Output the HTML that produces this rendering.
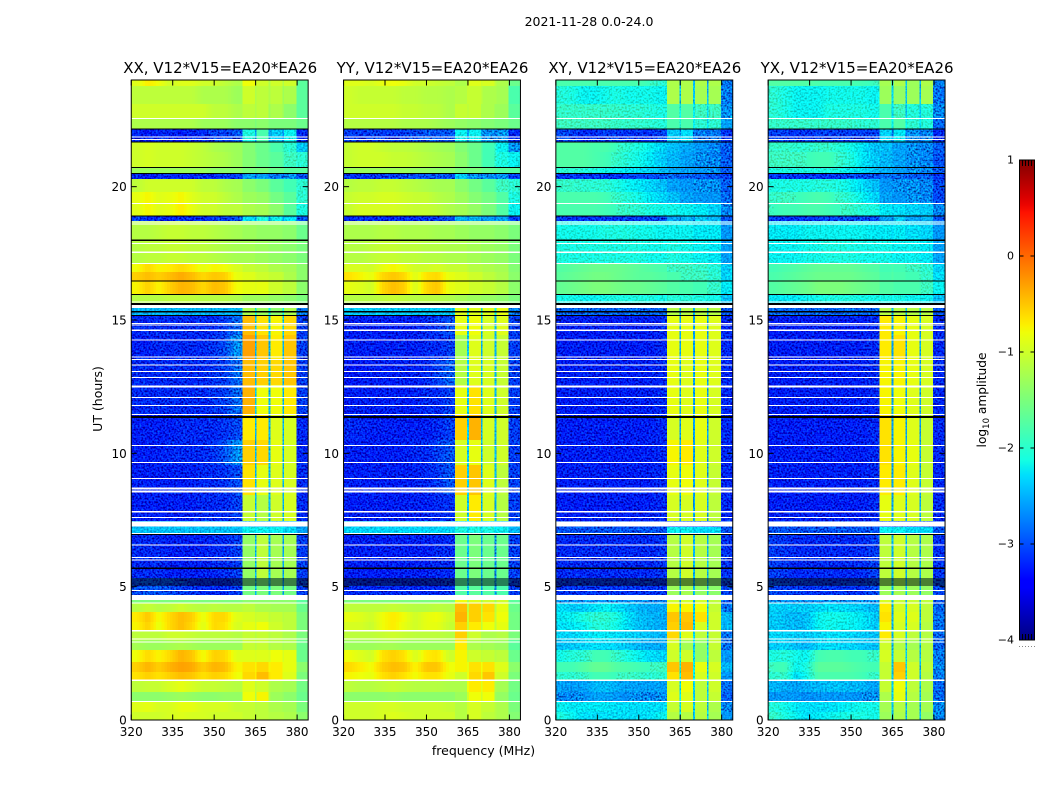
<!DOCTYPE html>
<html>
<head>
<meta charset="utf-8">
<title>2021-11-28 amplitude spectrogram</title>
<style>
html,body{margin:0;padding:0;background:#fff;}
svg{display:block;font-family:"DejaVu Sans","Liberation Sans",sans-serif;fill:#000;}
</style>
</head>
<body>
<svg id="figure" xmlns="http://www.w3.org/2000/svg" width="1050" height="800" viewBox="0 0 1050 800">
<defs>
<filter id="grainStrong" x="0" y="0" width="100%" height="100%" color-interpolation-filters="sRGB">
<feTurbulence type="fractalNoise" baseFrequency="0.55" numOctaves="1" seed="7" result="raw"/>
<feColorMatrix in="raw" type="matrix" values="0 0 0 0 0.5  1.8 0 0 0 -0.4  1.8 0 0 0 -0.4  0 0 0 0 1" result="noise"/>
<feComposite in="SourceGraphic" in2="noise" operator="arithmetic" k1="0.5" k2="0.75" k3="0.5" k4="-0.25" result="mixed"/>
<feComposite in="mixed" in2="SourceAlpha" operator="in"/>
</filter>
<filter id="grainSoft" x="0" y="0" width="100%" height="100%" color-interpolation-filters="sRGB">
<feTurbulence type="fractalNoise" baseFrequency="0.55" numOctaves="1" seed="11" result="raw"/>
<feColorMatrix in="raw" type="matrix" values="0 0 0 0 0.5  1.8 0 0 0 -0.4  1.8 0 0 0 -0.4  0 0 0 0 1" result="noise"/>
<feComposite in="SourceGraphic" in2="noise" operator="arithmetic" k1="0.3" k2="0.85" k3="0.2" k4="-0.1" result="mixed"/>
<feComposite in="mixed" in2="SourceAlpha" operator="in"/>
</filter>
</defs>
<rect x="0" y="0" width="1050" height="800" fill="#fff"/>
<text x="589" y="26" font-size="12.5" text-anchor="middle">2021-11-28 0.0-24.0</text>
<text x="0" y="0" font-size="12.5" text-anchor="middle" transform="translate(102,399) rotate(-90)">UT (hours)</text>
<text x="483.500" y="755" font-size="12.5" text-anchor="middle">frequency (MHz)</text>
<text x="0" y="0" font-size="12.2" text-anchor="middle" transform="translate(986,400) rotate(-90)">log<tspan font-size="8.5" dy="3">10</tspan><tspan dy="-3"> amplitude</tspan></text>
<g id="panels"></g>
<g id="colorbar"></g>
</svg>
<script>
// Axis data
const freqEdges = [320,324,328,332,336,340,344,348,352,356,360.3,364.7,365.3,369.7,370.3,374.7,375.3,379.7,384];
const timeEdges = [24,23.77,23.10,22.57,22.16,21.67,21.30,20.73,20.51,20.28,19.80,19.35,18.90,18.71,18.00,17.14,16.80,16.46,15.97,15.64,15.45,15.19,14.44,13.50,12.56,11.44,10.50,9.56,8.44,7.46,7.24,6.97,5.32,4.69,4.39,4.05,3.67,3.37,3.00,2.62,2.17,1.80,1.50,1.05,0.71,0.30,0];
const xTicks = [320,335,350,365,380];
const yTicks = [0,5,10,15,20];
const colorTicks = [1,0,-1,-2,-3,-4];
const panelTitles = ["XX, V12*V15=EA20*EA26","YY, V12*V15=EA20*EA26","XY, V12*V15=EA20*EA26","YX, V12*V15=EA20*EA26"];
// Flagged integrations shared by all panels: [hour, width in hours]
const whiteFlags = [[22.56,.04],[21.87,.04],[21.77,.04],[19.37,.04],[18.68,.04],[18.60,.04],[17.87,.04],[17.54,.04],[17.12,.04],[15.68,.04],[15.52,.15],[14.87,.04],[14.81,.04],[14.62,.06],[14.25,.04],[13.62,.04],[13.52,.04],[13.31,.04],[13.07,.04],[12.85,.04],[12.50,.075],[12.10,.04],[11.80,.04],[11.46,.04],[10.30,.04],[9.66,.04],[9.05,.04],[8.69,.04],[8.62,.04],[8.56,.04],[7.81,.04],[7.60,.04],[7.35,.19],[7.00,.04],[6.56,.04],[6.10,.04],[6.00,.04],[4.85,.04],[4.59,.19],[4.38,.04],[3.35,.06],[3.03,.04],[2.92,.04],[1.49,.06],[0.70,.04]];
const blackFlags = [[22.17,.04],[21.67,.04],[20.72,.04],[20.50,.04],[18.90,.04],[17.99,.04],[16.46,.04],[15.96,.04],[15.60,.06],[15.31,.04],[15.17,.04],[11.37,.075],[6.96,.04],[5.69,.04],[5.29,.04],[5.21,.04],[5.14,.04],[5.06,.04]];
// log10 amplitude, rows top to bottom (timeEdges), columns left to right (freqEdges)
const xxValues = [
[-.9,-.7,-.8,-1,-.9,-.9,-1,-1,-1.1,-1.2,-.8,-1,-1,-1.2,-1,-1.2,-1,-1.7],
[-1.1,-1.1,-1.1,-1.1,-1.1,-1.1,-1.2,-1.2,-1.2,-1.3,-1,-1.2,-1.1,-1.2,-1.1,-1.3,-1.2,-1.7],
[-1,-1,-1,-1,-1,-1,-1,-1.1,-1.1,-1.2,-1.1,-1.2,-1.1,-1.3,-1.2,-1.3,-1.4,-1.7],
[-1.2,-1.2,-1.2,-1.2,-1.2,-1.2,-1.3,-1.3,-1.3,-1.4,-1.4,-1.5,-1.4,-1.5,-1.5,-1.5,-1.5,-1.6],
[-3.2,-3.3,-3.2,-3.2,-3.3,-3.2,-3.2,-3.1,-3.1,-3,-2.1,-2.6,-1.8,-2.6,-2.4,-2.7,-2.2,-3.2],
[-1,-.95,-1,-1,-1,-1.05,-1.1,-1.2,-1.25,-1.3,-1.45,-1.55,-1.6,-1.7,-1.8,-1.9,-2,-2.4],
[-1,-.95,-1,-1,-1,-1.05,-1.1,-1.15,-1.2,-1.3,-1.45,-1.5,-1.6,-1.65,-1.7,-1.8,-1.9,-2],
[-1.3,-1.3,-1.3,-1.3,-1.3,-1.3,-1.3,-1.4,-1.4,-1.4,-1.5,-1.6,-1.5,-1.6,-1.6,-1.6,-1.7,-1.7],
[-3.2,-3.3,-3.2,-3.2,-3.2,-3.2,-3.2,-3.2,-3.1,-3.1,-2.6,-2.9,-2.6,-2.9,-2.8,-2.9,-2.7,-3],
[-1.1,-1,-1,-1,-1,-1,-1.1,-1.1,-1.2,-1.25,-1.4,-1.45,-1.5,-1.6,-1.7,-1.75,-1.85,-2],
[-.85,-.75,-.9,-.85,-.75,-.9,-1,-1,-1.1,-1.2,-1.3,-1.3,-1.35,-1.45,-1.55,-1.6,-1.7,-2],
[-.9,-.75,-.9,-.85,-.7,-.85,-1,-1,-1.1,-1.1,-1.2,-1.25,-1.25,-1.35,-1.4,-1.5,-1.7,-2.1],
[-3.1,-3.2,-3.2,-3.2,-3.2,-3.2,-3.2,-3.1,-3.1,-3,-2.3,-2.6,-2.1,-2.6,-2.2,-2.6,-2.3,-3],
[-1.15,-1.15,-1.1,-1.05,-1.05,-1.1,-1.1,-1.15,-1.2,-1.25,-1.3,-1.3,-1.35,-1.35,-1.35,-1.4,-1.4,-1.6],
[-1.15,-1.1,-1.1,-1.05,-1.05,-1.1,-1.1,-1.15,-1.2,-1.25,-1.25,-1.3,-1.3,-1.35,-1.35,-1.4,-1.4,-1.5],
[-.8,-.6,-.75,-.7,-.6,-.7,-.85,-.75,-.8,-.95,-1.05,-1.1,-1.1,-1.2,-1.2,-1.25,-1.25,-1.4],
[-.55,-.45,-.55,-.45,-.35,-.45,-.6,-.5,-.55,-.85,-.9,-.95,-1,-1.05,-1.05,-1.1,-1.2,-1.4],
[-.75,-.55,-.75,-.55,-.4,-.45,-.6,-.45,-.5,-.8,-.85,-.9,-.85,-1,-1,-1.1,-1.1,-1.4],
[-1.15,-1.15,-1.15,-1.1,-1.1,-1.1,-1.15,-1.15,-1.15,-1.2,-1.3,-1.3,-1.3,-1.35,-1.35,-1.35,-1.4,-1.5],
[-1.2,-1.2,-1.2,-1.2,-1.2,-1.2,-1.2,-1.2,-1.2,-1.2,-1.3,-1.3,-1.3,-1.3,-1.3,-1.3,-1.4,-1.5],
[-2.5,-2.5,-2.5,-2.5,-2.5,-2.5,-2.5,-2.5,-2.5,-2.5,-1.2,-2.2,-1.3,-2.2,-1.4,-2.2,-1.2,-2.8],
[-3.2,-3.2,-3.2,-3.2,-3.2,-3.2,-3.2,-3.2,-3.1,-2.9,-.45,-2.4,-.65,-2.4,-.75,-2.4,-.6,-3.1],
[-3.25,-3.25,-3.2,-3.2,-3.2,-3.2,-3.2,-3.15,-3.05,-2.7,-.3,-2.5,-.5,-2.5,-.7,-2.5,-.5,-3.1],
[-3.2,-3.2,-3.2,-3.2,-3.2,-3.2,-3.2,-3.15,-3.1,-2.9,-.45,-2.5,-.55,-2.5,-.6,-2.5,-.5,-3.1],
[-3.2,-3.2,-3.2,-3.2,-3.2,-3.2,-3.2,-3.15,-3.1,-2.9,-.4,-2.4,-.8,-2.5,-.8,-2.5,-.7,-3.1],
[-3.25,-3.25,-3.25,-3.25,-3.2,-3.2,-3.2,-3.2,-3.15,-3.05,-.7,-2.5,-.7,-2.5,-.9,-2.5,-.95,-3.2],
[-3.25,-3.25,-3.25,-3.2,-3.2,-3.2,-3.2,-3.15,-3,-2.7,-.55,-2.5,-.6,-2.5,-.85,-2.5,-.95,-3.2],
[-3.25,-3.25,-3.25,-3.25,-3.25,-3.25,-3.2,-3.2,-3.15,-3.05,-.65,-2.5,-.85,-2.5,-.9,-2.5,-.95,-3.2],
[-3.25,-3.25,-3.25,-3.25,-3.25,-3.25,-3.2,-3.2,-3.2,-3.1,-1.05,-2.5,-1.15,-2.5,-1,-2.5,-.95,-3.2],
[-2.5,-2.5,-2.5,-2.5,-2.5,-2.5,-2.5,-2.5,-2.5,-2.5,-2.5,-2.5,-2.5,-2.5,-2.5,-2.5,-2.5,-2.6],
[-2.45,-2.45,-2.45,-2.45,-2.45,-2.45,-2.45,-2.45,-2.45,-2.45,-2.2,-2.3,-2.2,-2.3,-2.2,-2.3,-2.3,-2.6],
[-3.2,-3.2,-3.2,-3.25,-3.25,-3.25,-3.25,-3.2,-3.2,-3.1,-1.35,-2.5,-1.1,-2.5,-1.25,-2.6,-1.25,-3.1],
[-3.05,-3,-3,-3.05,-3.1,-3.15,-3.2,-3.2,-3.2,-3.1,-1.55,-2.5,-1.5,-2.5,-1.5,-2.6,-1.55,-3.1],
[-1.5,-1.5,-1.5,-1.5,-1.5,-1.5,-1.5,-1.5,-1.5,-1.5,-1.4,-1.4,-1.4,-1.4,-1.4,-1.4,-1.4,-1.7],
[-1.15,-1.05,-1.15,-1.1,-1,-1.1,-1.15,-1.1,-1.15,-1.15,-1.1,-1.2,-1.2,-1.2,-1.25,-1.25,-1.25,-1.6],
[-.7,-.5,-.8,-.6,-.45,-.55,-.85,-.6,-.6,-.9,-.95,-1.05,-1,-1.1,-1.05,-1.15,-1.1,-1.5],
[-.75,-.55,-.85,-.6,-.45,-.6,-.9,-.6,-.65,-.95,-.85,-1,-.8,-1,-1,-1.1,-1.1,-1.5],
[-1.1,-1.1,-1.1,-1,-1,-1.05,-1.1,-1.1,-1.1,-1.15,-1.05,-1.15,-1.05,-1.15,-1.1,-1.2,-1.2,-1.5],
[-1.25,-1.3,-1.3,-1.25,-1.2,-1.25,-1.3,-1.3,-1.3,-1.3,-1.05,-1.15,-1.05,-1.2,-1.15,-1.25,-1.2,-1.6],
[-.8,-.6,-.75,-.6,-.4,-.5,-.8,-.55,-.6,-.9,-.9,-.95,-.9,-.95,-.8,-.95,-.85,-1.6],
[-.55,-.4,-.55,-.4,-.3,-.35,-.55,-.4,-.45,-.75,-.65,-.75,-.6,-.75,-.7,-.85,-.85,-1.4],
[-.65,-.55,-.65,-.55,-.45,-.5,-.65,-.55,-.6,-.8,-.6,-.7,-.45,-.65,-.7,-.9,-.9,-1.5],
[-1.1,-1.05,-1.05,-.95,-.85,-.95,-1.05,-1.05,-1.1,-1.15,-.9,-1.1,-1,-1.15,-1.2,-1.25,-1.25,-1.55],
[-1.4,-1.4,-1.4,-1.35,-1.3,-1.35,-1.4,-1.4,-1.35,-1.35,-.8,-1.2,-.75,-1.2,-1.3,-1.35,-1.4,-1.6],
[-.9,-.85,-.95,-.95,-.85,-.85,-.95,-.95,-.95,-1.05,-1.05,-1.15,-1.1,-1.2,-1.2,-1.25,-1.25,-1.5],
[-1,-1,-1,-.95,-.9,-.95,-.95,-1,-1,-1,-1.05,-1.1,-1.1,-1.15,-1.15,-1.15,-1.2,-1.4]
];
const yyValues = [
[-.9,-.9,-.95,-.85,-.8,-.85,-1,-1,-1.05,-1.1,-1.2,-1,-.9,-1,-.95,-1.1,-1.2,-1.6],
[-1,-1.05,-1.05,-1.05,-1.05,-1.1,-1.1,-1.15,-1.15,-1.2,-1.15,-1.05,-1.05,-1.1,-1.2,-1.2,-1.25,-1.8],
[-1,-1,-1,-1,-1,-1.05,-1.05,-1.1,-1.1,-1.2,-1.05,-1.1,-1.05,-1.2,-1.2,-1.3,-1.3,-1.7],
[-1.15,-1.15,-1.15,-1.15,-1.15,-1.2,-1.2,-1.2,-1.25,-1.3,-1.35,-1.4,-1.4,-1.45,-1.45,-1.5,-1.5,-1.6],
[-3.1,-3.15,-3.1,-3.1,-3.15,-3.1,-3.05,-3,-3,-3,-2.2,-2.6,-2.2,-2.6,-2.7,-2.8,-2.7,-3.2],
[-1.05,-1,-1,-1.05,-1.1,-1.1,-1.15,-1.2,-1.25,-1.3,-1.45,-1.55,-1.6,-1.7,-1.85,-2,-2.2,-2.7],
[-1.05,-1,-1,-1,-1.05,-1.05,-1.1,-1.15,-1.2,-1.25,-1.4,-1.5,-1.6,-1.7,-1.85,-2,-2.1,-2.2],
[-1.3,-1.3,-1.3,-1.3,-1.3,-1.3,-1.35,-1.35,-1.4,-1.4,-1.5,-1.55,-1.5,-1.55,-1.6,-1.65,-1.7,-1.7],
[-3.15,-3.15,-3.15,-3.1,-3.1,-3.05,-3,-3,-3,-3,-2.4,-2.7,-2.7,-2.9,-2.7,-2.9,-2.7,-3.1],
[-1.15,-1.1,-1.1,-1.05,-1.05,-1.1,-1.15,-1.2,-1.25,-1.25,-1.4,-1.45,-1.55,-1.6,-1.7,-1.8,-1.9,-2],
[-1.05,-1,-1,-.95,-.95,-1,-1.05,-1.05,-1.15,-1.2,-1.3,-1.35,-1.45,-1.5,-1.55,-1.6,-1.75,-2.1],
[-1.05,-.95,-.95,-.95,-.95,-1,-1.05,-1.05,-1.1,-1.2,-1.25,-1.3,-1.35,-1.45,-1.5,-1.55,-1.75,-2.2],
[-3.2,-3.2,-3.2,-3.2,-3.2,-3.2,-3.2,-3.15,-3.1,-3,-2.5,-2.8,-2.5,-2.8,-2.6,-2.8,-2.6,-3.1],
[-1.2,-1.2,-1.2,-1.15,-1.15,-1.2,-1.2,-1.2,-1.25,-1.25,-1.3,-1.3,-1.35,-1.35,-1.35,-1.4,-1.4,-1.5],
[-1.15,-1.15,-1.1,-1.05,-1.05,-1.1,-1.1,-1.15,-1.15,-1.2,-1.2,-1.25,-1.25,-1.3,-1.3,-1.35,-1.35,-1.5],
[-.95,-.95,-1,-.85,-.75,-.85,-1,-1,-.95,-1.05,-1.05,-1.1,-1.15,-1.15,-1.2,-1.25,-1.25,-1.45],
[-.65,-.75,-.85,-.6,-.5,-.6,-.9,-.65,-.6,-.85,-.9,-.95,-1,-1,-1.1,-1.15,-1.2,-1.4],
[-.85,-.9,-1,-.6,-.45,-.55,-.95,-.6,-.5,-.85,-.9,-.9,-1,-1,-1.05,-1.1,-1.15,-1.4],
[-1.15,-1.15,-1.15,-1.1,-1.05,-1.1,-1.15,-1.15,-1.15,-1.2,-1.25,-1.3,-1.3,-1.35,-1.35,-1.35,-1.4,-1.5],
[-1.2,-1.2,-1.2,-1.2,-1.2,-1.2,-1.2,-1.2,-1.2,-1.2,-1.3,-1.3,-1.3,-1.3,-1.3,-1.3,-1.4,-1.5],
[-2.4,-2.4,-2.4,-2.4,-2.4,-2.4,-2.4,-2.4,-2.4,-2.4,-.9,-2.1,-.9,-2.2,-.9,-2.2,-.85,-2.8],
[-3.25,-3.25,-3.25,-3.25,-3.25,-3.25,-3.25,-3.2,-3.15,-3,-.85,-2.4,-.8,-2.5,-.95,-2.5,-.9,-3.1],
[-3.25,-3.25,-3.25,-3.25,-3.25,-3.25,-3.25,-3.2,-3.2,-3.1,-1.25,-2.4,-.9,-2.5,-1,-2.5,-1.05,-3.1],
[-3.3,-3.3,-3.25,-3.25,-3.25,-3.25,-3.25,-3.2,-3.1,-2.95,-1.15,-2.4,-.9,-2.5,-.95,-2.5,-1.05,-3.1],
[-3.25,-3.25,-3.25,-3.25,-3.25,-3.25,-3.25,-3.2,-3.2,-3.1,-.85,-2.4,-.65,-2.5,-.9,-2.5,-1,-3.1],
[-3.2,-3.2,-3.25,-3.25,-3.25,-3.25,-3.25,-3.25,-3.2,-3.1,-.55,-2.4,-.4,-2.5,-.95,-2.5,-1,-3.1],
[-3.25,-3.25,-3.25,-3.25,-3.25,-3.25,-3.2,-3.2,-3.1,-3,-.95,-2.4,-.85,-2.5,-1,-2.5,-1,-3.1],
[-3.25,-3.25,-3.25,-3.25,-3.25,-3.25,-3.25,-3.2,-3.15,-3,-.55,-2.4,-.5,-2.5,-.9,-2.5,-1.1,-3.1],
[-3.25,-3.25,-3.25,-3.25,-3.25,-3.25,-3.25,-3.25,-3.2,-3.15,-1,-2.4,-.7,-2.5,-.95,-2.5,-1.15,-3.1],
[-2.4,-2.4,-2.4,-2.4,-2.4,-2.4,-2.4,-2.4,-2.4,-2.4,-2.3,-2.4,-2.3,-2.4,-2.3,-2.4,-2.4,-2.5],
[-2.35,-2.35,-2.35,-2.35,-2.35,-2.35,-2.35,-2.35,-2.35,-2.35,-2.1,-2.3,-2.1,-2.3,-2.1,-2.3,-2.2,-2.5],
[-3.25,-3.25,-3.25,-3.25,-3.25,-3.25,-3.25,-3.25,-3.2,-3.2,-1.6,-2.5,-1.5,-2.6,-1.6,-2.7,-1.6,-3.1],
[-3.2,-3.2,-3.2,-3.2,-3.2,-3.2,-3.2,-3.2,-3.2,-3.15,-1.75,-2.5,-1.7,-2.6,-1.75,-2.7,-1.8,-3.1],
[-1.5,-1.5,-1.5,-1.5,-1.5,-1.5,-1.5,-1.5,-1.5,-1.5,-.8,-1.2,-.9,-1.3,-1,-1.3,-1,-1.7],
[-1.1,-1.1,-1.1,-1.1,-1.05,-1.1,-1.15,-1.15,-1.1,-1.15,-.45,-1.1,-.55,-1.15,-.6,-1.15,-.85,-1.6],
[-.85,-.9,-1,-.8,-.7,-.8,-1,-.85,-.8,-1,-.4,-1,-.55,-1.05,-.65,-1.1,-.8,-1.55],
[-.95,-.95,-1.05,-.8,-.7,-.85,-1,-.85,-.85,-1.05,-.55,-1.05,-.7,-1.1,-.8,-1.1,-.85,-1.55],
[-1.1,-1.1,-1.1,-1.05,-1,-1.05,-1.1,-1.1,-1.1,-1.15,-.55,-1.1,-1,-1.2,-1.2,-1.2,-1.15,-1.5],
[-1.3,-1.3,-1.3,-1.25,-1.25,-1.3,-1.3,-1.3,-1.3,-1.3,-.7,-1.2,-1.2,-1.3,-1.25,-1.3,-1.3,-1.7],
[-.8,-.9,-1,-.65,-.55,-.65,-.95,-.7,-.65,-1,-.75,-1.05,-1,-1.1,-1.05,-1.15,-1.1,-1.6],
[-.6,-.7,-.8,-.55,-.45,-.5,-.75,-.5,-.5,-.8,-.75,-.85,-.65,-.8,-.65,-.9,-.9,-1.4],
[-.75,-.8,-.85,-.65,-.55,-.65,-.8,-.65,-.65,-.85,-1,-.8,-.6,-.85,-.5,-.95,-1,-1.5],
[-1.1,-1.15,-1.15,-1.1,-1.05,-1.1,-1.15,-1.15,-1.15,-1.2,-1.2,-.8,-.7,-.9,-.7,-1.2,-1.25,-1.55],
[-1.4,-1.4,-1.4,-1.4,-1.35,-1.4,-1.4,-1.4,-1.4,-1.4,-1.3,-1,-.8,-1,-.8,-1.3,-1.35,-1.6],
[-1,-1,-1,-.95,-.95,-1,-1,-1,-1,-1.05,-1.15,-1,-.95,-1.05,-1.05,-1.15,-1.2,-1.5],
[-1,-1,-1,-.95,-.9,-.95,-1,-1,-1,-1,-1.15,-1,-.95,-1.05,-1.1,-1.15,-1.2,-1.45]
];
const xyValues = [
[-1.8,-1.8,-1.8,-1.8,-1.8,-1.8,-1.8,-1.8,-1.9,-2,-1.2,-2.4,-1.2,-2.5,-1.2,-2.6,-1.2,-2.8],
[-2.05,-2.1,-2.2,-2.2,-2.15,-2.1,-2.15,-2.15,-2.15,-2.2,-1.2,-2.4,-1.2,-2.4,-1.25,-2.5,-1.25,-2.8],
[-1.95,-1.95,-1.95,-1.95,-1.95,-1.95,-2,-2,-2.05,-2.1,-1.75,-2.2,-1.75,-2.2,-1.9,-2.3,-1.9,-2.7],
[-1.9,-1.9,-1.9,-1.9,-1.9,-1.95,-1.95,-1.95,-2,-2.05,-1.8,-2.1,-1.8,-2.2,-2,-2.3,-2,-2.6],
[-3.05,-3.1,-3.2,-3.2,-3.1,-3.15,-3.15,-3.15,-3.2,-3.05,-2.4,-2.7,-2.3,-2.8,-2.8,-2.9,-2.8,-3.15],
[-1.75,-1.75,-1.75,-1.8,-1.8,-1.9,-2,-2.1,-2.2,-2.35,-2.45,-2.55,-2.55,-2.6,-2.65,-2.7,-2.75,-2.95],
[-1.75,-1.75,-1.75,-1.8,-1.85,-1.95,-2.05,-2.15,-2.25,-2.4,-2.5,-2.55,-2.6,-2.65,-2.7,-2.7,-2.75,-2.95],
[-2,-2,-2.05,-2.1,-2.15,-2.2,-2.25,-2.3,-2.35,-2.45,-2.55,-2.55,-2.6,-2.65,-2.65,-2.7,-2.7,-2.95],
[-3.15,-3.15,-3.15,-3.15,-3.15,-3.15,-3.1,-3.05,-3.05,-3,-2.9,-2.95,-2.95,-2.95,-2.95,-3,-3,-3.1],
[-1.95,-1.95,-2,-2,-2,-2.1,-2.2,-2.25,-2.35,-2.45,-2.6,-2.65,-2.65,-2.7,-2.7,-2.7,-2.7,-2.95],
[-1.8,-1.8,-1.8,-1.8,-1.85,-1.95,-2.05,-2.15,-2.25,-2.35,-2.45,-2.55,-2.6,-2.65,-2.65,-2.65,-2.65,-2.9],
[-1.8,-1.8,-1.8,-1.8,-1.85,-1.9,-1.95,-2,-2.1,-2.15,-2.15,-2.2,-2.2,-2.25,-2.25,-2.3,-2.35,-2.75],
[-3.1,-3.15,-3.15,-3.15,-3.15,-3.15,-3.1,-3.1,-3.1,-3.05,-2.6,-2.7,-2.5,-2.7,-2.4,-2.6,-2.5,-3],
[-2.15,-2.15,-2.15,-2.15,-2.1,-2.1,-2.1,-2.15,-2.15,-2.2,-2.2,-2.2,-2.2,-2.25,-2.25,-2.25,-2.25,-2.65],
[-2.1,-2.1,-2.1,-2.1,-2.1,-2.1,-2.1,-2.1,-2.15,-2.15,-2.1,-2.15,-2.15,-2.2,-2.2,-2.2,-2.25,-2.6],
[-1.75,-1.7,-1.65,-1.6,-1.6,-1.6,-1.65,-1.7,-1.75,-1.8,-1.9,-1.9,-1.9,-1.95,-1.95,-2,-2.05,-2.4],
[-1.7,-1.65,-1.6,-1.55,-1.55,-1.6,-1.65,-1.7,-1.7,-1.75,-1.8,-1.85,-1.9,-1.9,-1.9,-1.95,-2,-2.35],
[-1.65,-1.6,-1.55,-1.5,-1.5,-1.55,-1.6,-1.6,-1.65,-1.7,-1.75,-1.8,-1.8,-1.85,-1.85,-1.9,-1.95,-2.25],
[-2.15,-2.15,-2.2,-2.2,-2.15,-2.1,-2.1,-2.1,-2.1,-2.15,-2.05,-2.1,-2.05,-2.1,-2.1,-2.15,-2.15,-2.45],
[-2.2,-2.2,-2.2,-2.2,-2.2,-2.2,-2.2,-2.2,-2.2,-2.2,-2.1,-2.1,-2.1,-2.1,-2.1,-2.1,-2.2,-2.5],
[-2.9,-2.9,-2.9,-2.9,-2.9,-2.9,-2.9,-2.9,-2.9,-2.9,-1.15,-2.5,-1.15,-2.5,-1.15,-2.5,-1.15,-3],
[-3.25,-3.25,-3.25,-3.25,-3.25,-3.25,-3.25,-3.25,-3.25,-3.2,-.85,-2.6,-.85,-2.6,-.85,-2.6,-.9,-3.2],
[-3.25,-3.25,-3.25,-3.25,-3.25,-3.25,-3.25,-3.25,-3.25,-3.2,-.85,-2.6,-.85,-2.6,-.85,-2.6,-.9,-3.2],
[-3.25,-3.25,-3.25,-3.25,-3.25,-3.25,-3.25,-3.25,-3.25,-3.2,-.85,-2.6,-.9,-2.6,-.85,-2.6,-.9,-3.2],
[-3.25,-3.25,-3.25,-3.25,-3.25,-3.25,-3.25,-3.25,-3.25,-3.2,-.85,-2.6,-.9,-2.6,-.85,-2.6,-.95,-3.2],
[-3.25,-3.25,-3.25,-3.25,-3.25,-3.25,-3.25,-3.25,-3.25,-3.2,-.95,-2.6,-.9,-2.6,-.85,-2.6,-1,-3.2],
[-3.25,-3.25,-3.25,-3.25,-3.25,-3.25,-3.25,-3.25,-3.25,-3.2,-.75,-2.6,-.7,-2.6,-.9,-2.6,-1,-3.2],
[-3.25,-3.25,-3.25,-3.25,-3.25,-3.25,-3.25,-3.25,-3.25,-3.2,-.85,-2.6,-.8,-2.6,-.9,-2.6,-1.05,-3.2],
[-3.25,-3.25,-3.25,-3.25,-3.25,-3.25,-3.25,-3.25,-3.25,-3.2,-.95,-2.6,-.95,-2.6,-.95,-2.6,-1.1,-3.2],
[-3,-3,-3,-3,-3,-3,-3,-3,-3,-3,-3,-3,-3,-3,-3,-3,-3,-3],
[-3,-3,-3,-3,-3,-3,-3,-3,-3,-3,-2.2,-2.4,-2.2,-2.4,-2.3,-2.4,-2.3,-3],
[-3.2,-3.2,-3.2,-3.2,-3.2,-3.2,-3.2,-3.2,-3.2,-3.15,-1.15,-2.5,-1,-2.5,-1.15,-2.5,-1.25,-3.15],
[-3.15,-3.15,-3.15,-3.15,-3.15,-3.15,-3.15,-3.15,-3.15,-3.15,-1.3,-2.5,-1.25,-2.5,-1.35,-2.5,-1.4,-3.05],
[-2.7,-2.7,-2.7,-2.7,-2.7,-2.7,-2.7,-2.7,-2.75,-2.75,-1,-2.6,-1,-2.6,-1,-2.6,-1.1,-3],
[-2.3,-2.4,-2.4,-2.3,-2.2,-2.3,-2.4,-2.5,-2.55,-2.55,-.75,-2.4,-.75,-2.4,-.8,-2.4,-1.05,-2.85],
[-2.25,-2.2,-2.1,-2,-2,-2.1,-2.3,-2.45,-2.5,-2.55,-.5,-2.4,-.5,-2.4,-.65,-2.4,-1,-2.5],
[-2.3,-2.25,-2.2,-2.05,-2.05,-2.15,-2.3,-2.45,-2.5,-2.55,-.55,-2.4,-.45,-2.4,-.95,-2.4,-1,-2.5],
[-2.35,-2.35,-2.3,-2.25,-2.25,-2.3,-2.35,-2.4,-2.45,-2.5,-.6,-2.3,-.9,-2.3,-1.1,-2.4,-1.05,-2.85],
[-2.45,-2.4,-2.35,-2.3,-2.3,-2.35,-2.4,-2.5,-2.55,-2.55,-.95,-2.3,-1.25,-2.4,-1.35,-2.4,-1.05,-2.85],
[-2.15,-2.05,-2,-1.85,-1.85,-1.95,-2.1,-2.2,-2.3,-2.35,-1,-2.2,-1,-2.3,-1.35,-2.4,-1.1,-2.65],
[-1.85,-1.85,-1.75,-1.65,-1.65,-1.75,-1.8,-1.85,-1.9,-1.9,-.5,-2.1,-.4,-2.2,-.85,-2.4,-.95,-2.5],
[-2,-2,-1.95,-1.85,-1.85,-1.9,-1.9,-1.95,-2,-2,-.65,-2.2,-.45,-2.2,-.95,-2.4,-1,-2.65],
[-2.6,-2.65,-2.6,-2.5,-2.45,-2.55,-2.6,-2.6,-2.6,-2.6,-.95,-2.3,-.8,-2.3,-1.1,-2.4,-1,-2.85],
[-2.75,-2.75,-2.7,-2.6,-2.6,-2.65,-2.7,-2.7,-2.75,-2.7,-.9,-2.3,-.9,-2.4,-1.1,-2.4,-1.05,-2.95],
[-2.2,-2.25,-2.25,-2.25,-2.25,-2.3,-2.3,-2.3,-2.3,-2.3,-1.05,-2.3,-.95,-2.4,-1.1,-2.4,-1.2,-2.75],
[-2.1,-2.2,-2.3,-2.3,-2.3,-2.3,-2.3,-2.3,-2.3,-2.2,-1.15,-2.3,-1.15,-2.4,-1.15,-2.4,-1.25,-2.65]
];
const yxValues = [
[-1.75,-1.75,-1.75,-1.75,-1.8,-1.8,-1.8,-1.8,-1.85,-1.9,-1.25,-2.3,-1.2,-2.4,-1.3,-2.5,-1.2,-2.75],
[-2,-2.1,-2.2,-2.2,-2.2,-2.15,-2.15,-2.15,-2.15,-2.2,-1.3,-2.3,-1.35,-2.4,-1.3,-2.5,-1.25,-2.85],
[-2,-2.1,-2.2,-2.2,-2.2,-2.1,-2.1,-2.1,-2.1,-2.15,-1.8,-2.3,-1.9,-2.4,-2.05,-2.4,-2.05,-2.75],
[-1.95,-1.95,-1.95,-1.95,-1.95,-1.95,-1.95,-1.95,-2,-2,-1.8,-2.2,-1.75,-2.2,-2,-2.3,-2.05,-2.9],
[-3.1,-3.1,-3.15,-3.15,-3.1,-3.1,-3.1,-3.1,-3.1,-3.1,-2.35,-2.8,-2.25,-2.8,-2.7,-2.9,-2.75,-3.2],
[-1.95,-1.95,-2,-2,-1.95,-1.95,-2.05,-2.15,-2.25,-2.45,-2.45,-2.55,-2.6,-2.65,-2.7,-2.75,-2.75,-2.95],
[-1.9,-1.9,-1.9,-1.9,-1.85,-1.85,-1.95,-2.1,-2.25,-2.4,-2.5,-2.55,-2.6,-2.65,-2.7,-2.75,-2.75,-3],
[-2.1,-2.1,-2.1,-2.1,-2.1,-2.1,-2.15,-2.25,-2.3,-2.45,-2.55,-2.6,-2.6,-2.65,-2.7,-2.7,-2.75,-2.95],
[-3.15,-3.15,-3.15,-3.15,-3.15,-3.15,-3.1,-3.05,-3.05,-3,-2.85,-2.95,-2.9,-3,-2.95,-3,-2.95,-3.15],
[-2.1,-2.1,-2.1,-2.1,-2.05,-2.05,-2.1,-2.2,-2.3,-2.45,-2.65,-2.7,-2.7,-2.75,-2.7,-2.75,-2.75,-3.05],
[-1.95,-1.9,-1.9,-1.85,-1.8,-1.85,-1.95,-2.05,-2.2,-2.35,-2.6,-2.65,-2.65,-2.7,-2.7,-2.75,-2.75,-3.05],
[-1.9,-1.85,-1.85,-1.8,-1.8,-1.85,-1.9,-1.95,-2.05,-2.1,-2.25,-2.3,-2.3,-2.35,-2.35,-2.4,-2.4,-2.75],
[-3.1,-3.15,-3.15,-3.15,-3.1,-3.1,-3.05,-3.05,-3.05,-3.05,-2.6,-2.7,-2.4,-2.7,-2.6,-2.7,-2.5,-3],
[-2.25,-2.25,-2.25,-2.2,-2.2,-2.2,-2.2,-2.2,-2.2,-2.25,-2.25,-2.3,-2.25,-2.3,-2.3,-2.3,-2.35,-2.65],
[-2.2,-2.2,-2.2,-2.15,-2.15,-2.1,-2.1,-2.1,-2.15,-2.15,-2.15,-2.2,-2.2,-2.2,-2.2,-2.25,-2.25,-2.6],
[-1.85,-1.8,-1.75,-1.7,-1.65,-1.65,-1.65,-1.65,-1.7,-1.75,-1.85,-1.8,-1.85,-1.9,-1.9,-1.95,-2,-2.35],
[-1.8,-1.75,-1.7,-1.65,-1.6,-1.6,-1.6,-1.6,-1.65,-1.7,-1.8,-1.75,-1.8,-1.85,-1.85,-1.9,-1.95,-2.3],
[-1.75,-1.7,-1.65,-1.6,-1.5,-1.5,-1.5,-1.55,-1.6,-1.65,-1.75,-1.75,-1.8,-1.8,-1.8,-1.85,-1.9,-2.2],
[-2.25,-2.25,-2.25,-2.2,-2.15,-2.1,-2.1,-2.1,-2.15,-2.15,-2.15,-2.15,-2.15,-2.2,-2.2,-2.2,-2.2,-2.45],
[-2.2,-2.2,-2.2,-2.2,-2.2,-2.2,-2.2,-2.2,-2.2,-2.2,-2.1,-2.1,-2.1,-2.1,-2.1,-2.1,-2.2,-2.5],
[-2.9,-2.9,-2.9,-2.9,-2.9,-2.9,-2.9,-2.9,-2.9,-2.9,-1.15,-2.5,-1.15,-2.5,-1.15,-2.5,-1.15,-3],
[-3.25,-3.25,-3.25,-3.25,-3.25,-3.25,-3.25,-3.25,-3.25,-3.2,-.7,-2.6,-.75,-2.6,-.85,-2.6,-.95,-3.2],
[-3.25,-3.25,-3.25,-3.25,-3.25,-3.25,-3.25,-3.25,-3.25,-3.2,-.7,-2.6,-.65,-2.6,-.85,-2.6,-.95,-3.2],
[-3.25,-3.25,-3.25,-3.25,-3.25,-3.25,-3.25,-3.25,-3.25,-3.2,-.75,-2.6,-.75,-2.6,-.85,-2.6,-.95,-3.2],
[-3.25,-3.25,-3.25,-3.25,-3.25,-3.25,-3.25,-3.25,-3.25,-3.2,-.75,-2.6,-.8,-2.6,-.9,-2.6,-1,-3.2],
[-3.25,-3.25,-3.25,-3.25,-3.25,-3.25,-3.25,-3.25,-3.25,-3.2,-.65,-2.6,-.75,-2.6,-.9,-2.6,-1.05,-3.2],
[-3.25,-3.25,-3.25,-3.25,-3.25,-3.25,-3.25,-3.25,-3.25,-3.2,-.65,-2.6,-.75,-2.6,-.85,-2.6,-1.05,-3.2],
[-3.25,-3.25,-3.25,-3.25,-3.25,-3.25,-3.25,-3.25,-3.25,-3.2,-.7,-2.6,-.7,-2.6,-.9,-2.6,-1.05,-3.2],
[-3.25,-3.25,-3.25,-3.25,-3.25,-3.25,-3.25,-3.25,-3.25,-3.2,-.85,-2.6,-.9,-2.6,-.95,-2.6,-1.1,-3.2],
[-3,-3,-3,-3,-3,-3,-3,-3,-3,-3,-3,-3,-3,-3,-3,-3,-3,-3],
[-3,-3,-3,-3,-3,-3,-3,-3,-3,-3,-2.2,-2.4,-2.2,-2.4,-2.3,-2.4,-2.3,-3],
[-3.1,-3.15,-3.2,-3.2,-3.2,-3.2,-3.2,-3.2,-3.2,-3.1,-1.1,-2.5,-1,-2.5,-1.15,-2.6,-1.2,-3.15],
[-3.05,-3.1,-3.1,-3.15,-3.15,-3.15,-3.15,-3.15,-3.15,-3.05,-1.3,-2.5,-1.25,-2.5,-1.3,-2.6,-1.35,-3.05],
[-2.7,-2.7,-2.7,-2.7,-2.7,-2.7,-2.7,-2.7,-2.7,-2.75,-.95,-2.5,-1.05,-2.5,-1.05,-2.6,-1.1,-3],
[-2.35,-2.4,-2.4,-2.4,-2.35,-2.3,-2.3,-2.35,-2.4,-2.5,-.7,-2.5,-.95,-2.4,-.95,-2.5,-1.1,-2.9],
[-2.4,-2.45,-2.5,-2.45,-2.2,-2.15,-2.15,-2.2,-2.25,-2.4,-.65,-2.5,-.9,-2.4,-.9,-2.5,-1.1,-2.85],
[-2.4,-2.45,-2.5,-2.45,-2.2,-2.15,-2.2,-2.2,-2.25,-2.4,-.75,-2.5,-.95,-2.4,-.95,-2.6,-1.15,-2.85],
[-2.35,-2.35,-2.4,-2.4,-2.35,-2.3,-2.3,-2.35,-2.4,-2.45,-.7,-2.5,-.95,-2.4,-1.1,-2.5,-1.15,-2.9],
[-2.4,-2.35,-2.45,-2.5,-2.35,-2.3,-2.35,-2.35,-2.4,-2.45,-1,-2.5,-1.15,-2.5,-1.25,-2.5,-1.15,-2.9],
[-2.1,-2.05,-2.15,-2.2,-1.85,-1.8,-1.8,-1.85,-1.85,-1.95,-.95,-2.4,-1.05,-2.4,-1.15,-2.5,-1.15,-2.8],
[-1.9,-1.85,-2.2,-2.1,-1.7,-1.7,-1.7,-1.75,-1.8,-1.85,-1.05,-2.4,-.5,-2.3,-1,-2.5,-1.1,-2.75],
[-2,-1.95,-2.3,-2.15,-1.8,-1.8,-1.8,-1.8,-1.85,-1.95,-1.05,-2.4,-.55,-2.3,-1,-2.5,-1.15,-2.8],
[-2.5,-2.55,-2.6,-2.55,-2.5,-2.45,-2.45,-2.5,-2.5,-2.6,-1.05,-2.4,-.8,-2.4,-1.1,-2.5,-1.2,-2.9],
[-2.65,-2.65,-2.65,-2.7,-2.65,-2.65,-2.65,-2.65,-2.7,-2.7,-1.2,-2.4,-.85,-2.5,-1.15,-2.5,-1.25,-2.9],
[-2.05,-2.15,-2.25,-2.3,-2.3,-2.3,-2.25,-2.2,-2.15,-2.15,-1.25,-2.4,-1.15,-2.5,-1.25,-2.5,-1.25,-2.75],
[-1.95,-2.1,-2.2,-2.3,-2.25,-2.2,-2.15,-2.1,-2.1,-2.15,-1.3,-2.4,-1.2,-2.5,-1.25,-2.5,-1.35,-2.75]
];
const panelValues = [xxValues, yyValues, xyValues, yxValues];
const colorMin = -4, colorMax = 1;

const SVGNS = "http://www.w3.org/2000/svg";
const PANEL_W = 176.9, PANEL_TOP = 80, PANEL_BOTTOM = 720;
const PANEL_LEFTS = [131.25, 343.55, 555.85, 768.15];
const F_MIN = 320, F_MAX = 384, T_MIN = 0, T_MAX = 24;
const SMOOTH_COLUMNS = 10, SUBCELLS = 4, STRONG_BELOW = -2.7, SOFT_BELOW = -1.9;

function xScale(f, left) { return left + (f - F_MIN) / (F_MAX - F_MIN) * PANEL_W; }
function yScale(h) { return PANEL_BOTTOM - (h - T_MIN) / (T_MAX - T_MIN) * (PANEL_BOTTOM - PANEL_TOP); }
function ramp(t, pts) {
  for (let i = 1; i < pts.length; i++) {
    if (t <= pts[i][0]) {
      const a = pts[i - 1], b = pts[i];
      return a[1] + (b[1] - a[1]) * (t - a[0]) / (b[0] - a[0]);
    }
  }
  return pts[pts.length - 1][1];
}
function jet(t) {
  t = Math.max(0, Math.min(1, t));
  const r = ramp(t, [[0,0],[.35,0],[.66,1],[.89,1],[1,.5]]);
  const g = ramp(t, [[0,0],[.125,0],[.375,1],[.64,1],[.91,0],[1,0]]);
  const b = ramp(t, [[0,.5],[.11,1],[.34,1],[.65,0],[1,0]]);
  return "rgb(" + Math.round(r * 255) + "," + Math.round(g * 255) + "," + Math.round(b * 255) + ")";
}
function colorOf(v) { return jet((v - colorMin) / (colorMax - colorMin)); }
function make(tag, attrs, parent) {
  const el = document.createElementNS(SVGNS, tag);
  for (const k in attrs) el.setAttribute(k, attrs[k]);
  parent.appendChild(el);
  return el;
}
// Value at fraction u (0..1) across smooth column c, blended toward the neighbouring columns' centres.
function blended(row, c, u) {
  const v = row[c];
  if (u < .5) {
    const n = c > 0 ? row[c - 1] : v;
    return v + (n - v) * (.5 - u);
  }
  const n = c < SMOOTH_COLUMNS - 1 ? row[c + 1] : v;
  return v + (n - v) * (u - .5);
}

const panelsRoot = document.getElementById("panels");
panelTitles.forEach(function (title, p) {
  const left = PANEL_LEFTS[p];
  const right = left + PANEL_W;
  const g = make("g", {}, panelsRoot);
  
  
  const strong = make("g", {filter: "url(#grainStrong)"}, g);
  
  
  const soft = make("g", {filter: "url(#grainSoft)"}, g);
  
  
  const smooth = make("g", {}, g);
  
  
  const values = panelValues[p];
  values.forEach(function (row, r) {
    const y0 = yScale(timeEdges[r]), y1 = yScale(timeEdges[r + 1]);
    row.forEach(function (v, c) {
      const x0 = xScale(freqEdges[c], left), x1 = xScale(freqEdges[c + 1], left);
      const parts = c < SMOOTH_COLUMNS ? SUBCELLS : 1;
      for (let s = 0; s < parts; s++) {
        const sv = parts > 1 ? blended(row, c, (s + .5) / parts) : v;
        const w = (x1 - x0) / parts;
        const target = sv <= STRONG_BELOW ? strong : (sv <= SOFT_BELOW ? soft : smooth);
        const cell = make("rect", {x: x0 + s * w, y: y0, width: w, height: y1 - y0, fill: colorOf(sv), "shape-rendering": "crispEdges"}, target);
        
        
      }
    });
  });
  whiteFlags.forEach(function (f) {
    const h = yScale(f[0] - f[1] / 2) - yScale(f[0] + f[1] / 2);
    const line = make("rect", {x: left, y: yScale(f[0] + f[1] / 2), width: PANEL_W, height: h, fill: "#fff", "shape-rendering": "crispEdges"}, g);
    
    
  });
  blackFlags.forEach(function (f) {
    const h = yScale(f[0] - f[1] / 2) - yScale(f[0] + f[1] / 2);
    const line = make("rect", {x: left, y: yScale(f[0] + f[1] / 2), width: PANEL_W, height: h, fill: "#000", "shape-rendering": "crispEdges"}, g);
    
    
  });
  const frame = make("rect", {x: left, y: PANEL_TOP, width: PANEL_W, height: PANEL_BOTTOM - PANEL_TOP, fill: "none", stroke: "#000", "stroke-width": 1}, g);
  
  
  xTicks.forEach(function (t) {
    const x = xScale(t, left);
    const bottomTick = make("line", {x1: x, x2: x, y1: PANEL_BOTTOM, y2: PANEL_BOTTOM - 5.5, stroke: "#000"}, g);
    
    
    const topTick = make("line", {x1: x, x2: x, y1: PANEL_TOP, y2: PANEL_TOP + 5.5, stroke: "#000"}, g);
    
    
    const label = make("text", {x: x, y: 736, "font-size": 12, "text-anchor": "middle"}, g);
    
    
    label.textContent = t;
  });
  yTicks.forEach(function (t) {
    const y = yScale(t);
    const leftTick = make("line", {x1: left, x2: left + 5.5, y1: y, y2: y, stroke: "#000"}, g);
    
    
    const rightTick = make("line", {x1: right, x2: right - 5.5, y1: y, y2: y, stroke: "#000"}, g);
    
    
    const label = make("text", {x: left - 4.5, y: y + 4.5, "font-size": 12, "text-anchor": "end"}, g);
    
    
    label.textContent = t;
  });
  const heading = make("text", {x: left + PANEL_W / 2 + .5, y: 73, "font-size": 15, "text-anchor": "middle"}, g);
  
  
  heading.textContent = title;
});

// Colorbar
const CB_LEFT = 1019.5, CB_RIGHT = 1034.5, CB_TOP = 160, CB_BOTTOM = 640;
function cbScale(v) { return CB_BOTTOM - (v - colorMin) / (colorMax - colorMin) * (CB_BOTTOM - CB_TOP); }
const cbRoot = document.getElementById("colorbar");
const defs = make("defs", {}, cbRoot);
const grad = make("linearGradient", {id: "jetGradient", x1: 0, y1: 1, x2: 0, y2: 0}, defs);
for (let i = 0; i <= 64; i++) {
  make("stop", {offset: i / 64, "stop-color": jet(i / 64)}, grad);
}
const cbBar = make("rect", {x: CB_LEFT, y: CB_TOP, width: CB_RIGHT - CB_LEFT, height: CB_BOTTOM - CB_TOP, fill: "url(#jetGradient)", stroke: "#000"}, cbRoot);


colorTicks.forEach(function (t) {
  const y = cbScale(t);
  const tl = make("line", {x1: CB_LEFT, x2: CB_LEFT + 4, y1: y, y2: y, stroke: "#000"}, cbRoot);
  
  
  const tr = make("line", {x1: CB_RIGHT, x2: CB_RIGHT - 4, y1: y, y2: y, stroke: "#000"}, cbRoot);
  
  
  const label = make("text", {x: 1014, y: y + 3.5, "font-size": 11, "text-anchor": "end"}, cbRoot);
  
  
  label.textContent = t < 0 ? "\u2212" + Math.abs(t) : String(t);
});
[0, 1, 2, 3, 4, 5].forEach(function (i) {
  const x = CB_LEFT + i * (CB_RIGHT - CB_LEFT) / 5;
  const topTick = make("line", {x1: x, x2: x, y1: CB_TOP, y2: CB_TOP + 6, stroke: "#000"}, cbRoot);
  
  
  const botTick = make("line", {x1: x, x2: x, y1: CB_BOTTOM, y2: CB_BOTTOM - 6, stroke: "#000"}, cbRoot);
  
  
  const dot = make("rect", {x: x - .5, y: 646, width: 1, height: 1, fill: "#888"}, cbRoot);
  
  
});
</script>
</body>
</html>
